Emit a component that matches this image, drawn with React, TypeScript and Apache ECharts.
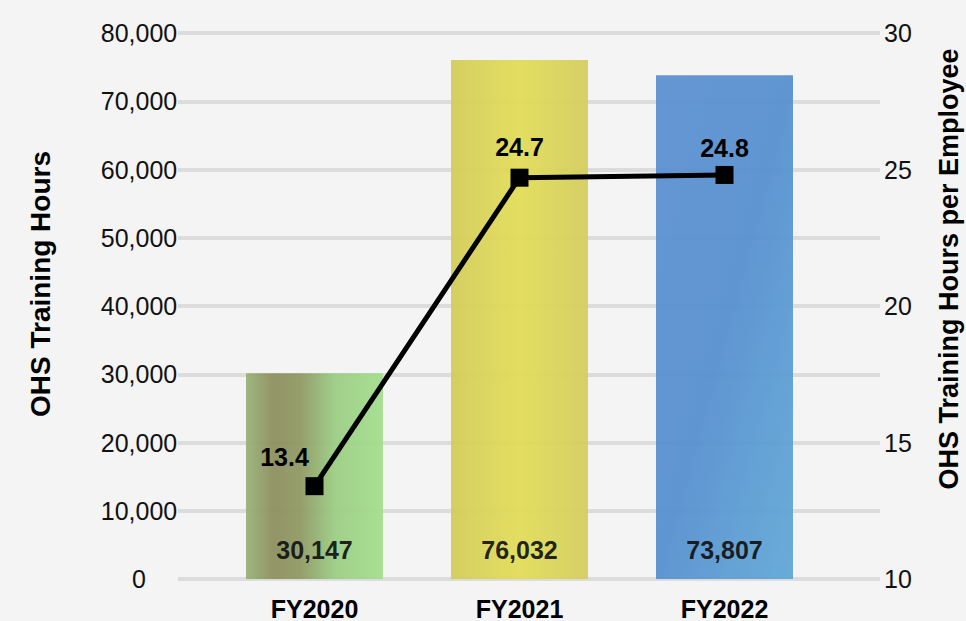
import React, { useEffect, useRef } from "react";
import * as echarts from "echarts";

const categories = ["FY2020", "FY2021", "FY2022"];
const trainingHours = [30147, 76032, 73807];
const hoursPerEmployee = [13.4, 24.7, 24.8];
const leftTitle = "OHS Training Hours";
const rightTitle = "OHS Training Hours per Employee";

const FONT = "'Liberation Sans', Arial, sans-serif";

const barColors = [
  new echarts.graphic.LinearGradient(0, 0, 1, 0, [
    { offset: 0, color: "#98b276" },
    { offset: 0.2, color: "#8b8e5c" },
    { offset: 0.4, color: "#8e9862" },
    { offset: 0.65, color: "#9acd82" },
    { offset: 1, color: "#a3de8b" },
  ]),
  new echarts.graphic.LinearGradient(0, 0, 1, 0, [
    { offset: 0, color: "#d2cc58" },
    { offset: 0.5, color: "#e2dc55" },
    { offset: 1, color: "#d3cd5c" },
  ]),
  new echarts.graphic.LinearGradient(0, 0, 1, 1, [
    { offset: 0, color: "#5a8fd0" },
    { offset: 0.5, color: "#548fcf" },
    { offset: 1, color: "#5fa7d6" },
  ]),
];

export default function App() {
  const ref = useRef<HTMLDivElement>(null);
  useEffect(() => {
    document.body.style.margin = "0";
    const chart = echarts.init(ref.current!, undefined, { renderer: "svg" });
    chart.setOption({
      animation: false,
      backgroundColor: "#f4f4f4",
      textStyle: { fontFamily: FONT },
      grid: [
        { left: 178, right: 86, top: 33, bottom: 42 },
        { left: 212, right: 139, top: 33, bottom: 42 },
      ],
      xAxis: [
        { type: "category", gridIndex: 0, data: [""], show: false },
        {
          type: "category",
          gridIndex: 1,
          data: categories,
          axisLine: { show: false },
          axisTick: { show: false },
          axisLabel: {
            fontSize: 25,
            fontWeight: "bold",
            color: "#000",
            margin: 17,
            fontFamily: FONT,
          },
        },
      ],
      yAxis: [
        {
          type: "value",
          gridIndex: 0,
          min: 0,
          max: 80000,
          interval: 10000,
          axisLine: { show: false },
          axisTick: { show: false },
          axisLabel: {
            fontSize: 25,
            color: "#111",
            margin: 39,
            align: "center",
            fontFamily: FONT,
            formatter: (v: number) => v.toLocaleString("en-US"),
          },
          splitLine: { lineStyle: { color: "#dcdcdc", width: 4 } },
        },
        {
          type: "value",
          gridIndex: 0,
          position: "right",
          min: 10,
          max: 30,
          interval: 5,
          axisLine: { show: false },
          axisTick: { show: false },
          axisLabel: { fontSize: 25, color: "#111", margin: 4, fontFamily: FONT },
          splitLine: { show: false },
        },
        { type: "value", gridIndex: 1, min: 0, max: 80000, show: false, splitLine: { show: false } },
        {
          type: "value",
          gridIndex: 1,
          min: 10,
          max: 30,
          position: "right",
          show: false,
          splitLine: { show: false },
        },
      ],
      series: [
        {
          type: "bar",
          xAxisIndex: 1,
          yAxisIndex: 2,
          barWidth: 137,
          data: trainingHours.map((v, i) => ({
            value: v,
            itemStyle: { color: barColors[i], opacity: 0.93 },
          })),
          label: {
            show: true,
            position: "insideBottom",
            distance: 17,
            fontSize: 25,
            fontWeight: "bold",
            color: "#111",
            fontFamily: FONT,
            formatter: (p: any) => Number(p.value).toLocaleString("en-US"),
          },
        },
        {
          type: "line",
          xAxisIndex: 1,
          yAxisIndex: 3,
          data: hoursPerEmployee.map((v, i) => ({
            value: v,
            label:
              i === 0
                ? { offset: [-30, 0] }
                : i === 1
                ? { offset: [0, -1] }
                : { offset: [0, 3] },
          })),
          symbol: "rect",
          symbolSize: 18,
          lineStyle: { color: "#000", width: 5 },
          itemStyle: { color: "#000" },
          label: {
            show: true,
            position: "top",
            distance: 8,
            fontSize: 25,
            fontWeight: "bold",
            color: "#000",
            fontFamily: FONT,
          },
          z: 5,
        },
      ],
      graphic: [
        {
          type: "text",
          x: 40,
          y: 284,
          rotation: Math.PI / 2,
          style: {
            text: leftTitle,
            fontSize: 28,
            fontWeight: "bold",
            fill: "#000",
            fontFamily: FONT,
            align: "center",
            verticalAlign: "middle",
          },
        },
        {
          type: "text",
          x: 949,
          y: 269,
          rotation: Math.PI / 2,
          style: {
            text: rightTitle,
            fontSize: 27,
            fontWeight: "bold",
            fill: "#000",
            fontFamily: FONT,
            align: "center",
            verticalAlign: "middle",
          },
        },
      ],
    });
    return () => chart.dispose();
  }, []);
  return <div ref={ref} style={{ width: 966, height: 621 }} />;
}
